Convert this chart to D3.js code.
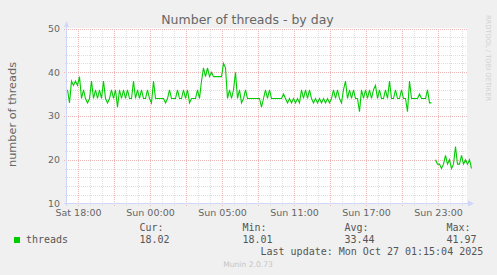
<!DOCTYPE html>
<html>
<head>
<meta charset="utf-8">
<script src="https://cdn.jsdelivr.net/npm/d3@7"></script>
<style>
  html, body { margin: 0; padding: 0; background: #f0f0f0; }
  svg { display: block; }
</style>
</head>
<body>
<svg id="chart" width="497" height="275"></svg>
<script>
// ---------- DATA ----------
const title = "Number of threads - by day";
const yLabel = "number of threads";
const tickLabels = ["Sat 18:00", "Sun 00:00", "Sun 05:00", "Sun 11:00", "Sun 17:00", "Sun 23:00"];
const tickHours = [0, 6, 12, 18, 24, 30];           // hours after Sat 18:00
const yTicks = [10, 20, 30, 40, 50];
const startHour = -11 / 12;                          // first sample, hours after Sat 18:00
const stepHours = 1 / 6;                             // 10-minute samples
const threads = [
  36,33,38,37,38,37,39,34,36,34,33,34,38,34,36,34,36,34,38,34,
  33,34,36,34,36,32,36,34,36,34,36,34,34,38,34,36,34,36,34,34,
  36,34,33,38,34,34,34,34,34,33,34,36,34,34,34,36,34,34,36,34,
  36,33,34,34,34,36,34,38,41,39,41,39,40,39,39,39,39,39,42,41,
  34,36,34,36,40,34,36,33,34,36,34,34,34,34,34,34,34,32,34,36,
  34,36,34,34,34,34,34,34,35,34,33,34,33,34,33,34,33,36,34,36,
  34,36,34,33,34,33,34,33,34,33,34,33,34,36,34,36,34,33,36,38,
  34,36,34,36,34,34,31,36,34,36,34,36,34,36,37,34,36,34,34,36,
  34,38,34,34,36,34,34,36,34,34,31,38,34,34,34,34,35,34,34,34,
  36,33,33,
  null,
  20,19,19,18,19,21,19,20,18,19,23,19,19,21,19,20,19,20,18
];
const seriesName = "threads";
const statLabels = ["Cur:", "Min:", "Avg:", "Max:"];
const statValues = ["18.02", "18.01", "33.44", "41.97"];
const lastUpdate = "Last update: Mon Oct 27 01:15:04 2025";
const footer = "Munin 2.0.73";
const sideText = "RRDTOOL / TOBI OETIKER";

// ---------- LAYOUT ----------
const plot = { left: 67, top: 28.5, width: 400, bottom: 203.5 };
const svg = d3.select("#chart");
const FONT = "'DejaVu Sans', sans-serif";
const MONO = "'DejaVu Sans Mono', monospace";
const textColor = "#666";
const axisColor = "#CFD6F8";
const majorColor = "#ebb6b6";
const minorColor = "#dedede";

const x = d3.scaleLinear()
  .domain([(plot.left + 0.5 - 78.5) / 12, (plot.left + plot.width + 0.5 - 78.5) / 12])
  .range([plot.left + 0.5, plot.left + plot.width + 0.5]);
const y = d3.scaleLinear().domain([10, 50]).range([plot.bottom, plot.top]);

// canvas
svg.append("rect")
  .attr("x", plot.left).attr("y", plot.top - 0.5)
  .attr("width", plot.width).attr("height", plot.bottom - plot.top + 0.5)
  .attr("fill", "#fff");

const grid = svg.append("g").attr("shape-rendering", "crispEdges");

// minor horizontal grid (every 2)
const yMinor = d3.range(12, 50, 2).filter(v => v % 10 !== 0);
grid.selectAll(".hmin").data(yMinor).join("line")
  .attr("x1", plot.left - 2).attr("x2", plot.left + plot.width)
  .attr("y1", d => Math.round(y(d)) + 0.5).attr("y2", d => Math.round(y(d)) + 0.5)
  .attr("stroke", minorColor).attr("stroke-dasharray", "1,1");

// minor vertical grid (every hour)
const xMinor = d3.range(Math.ceil(x.domain()[0]), x.domain()[1], 1).filter(h => ((h % 3) + 3) % 3 !== 0);
grid.selectAll(".vmin").data(xMinor).join("line")
  .attr("x1", d => Math.floor(x(d)) + 0.5).attr("x2", d => Math.floor(x(d)) + 0.5)
  .attr("y1", plot.top).attr("y2", plot.bottom + 2)
  .attr("stroke", minorColor).attr("stroke-dasharray", "1,1");

// major horizontal grid
grid.selectAll(".hmaj").data(yTicks.filter(v => v !== 10)).join("line")
  .attr("x1", plot.left - 3).attr("x2", plot.left + plot.width)
  .attr("y1", d => Math.round(y(d)) + 0.5).attr("y2", d => Math.round(y(d)) + 0.5)
  .attr("stroke", majorColor).attr("stroke-dasharray", "1,1");

// major vertical grid (every 3 hours)
const xMajor = d3.range(Math.ceil(x.domain()[0] / 3) * 3, x.domain()[1], 3);
grid.selectAll(".vmaj").data(xMajor).join("line")
  .attr("x1", d => Math.floor(x(d)) + 0.5).attr("x2", d => Math.floor(x(d)) + 0.5)
  .attr("y1", plot.top).attr("y2", plot.bottom + 3)
  .attr("stroke", majorColor).attr("stroke-dasharray", "1,1");

// axes with arrows
const axes = svg.append("g");
axes.append("line").attr("x1", plot.left - 0.5).attr("x2", plot.left - 0.5)
  .attr("y1", plot.bottom + 2).attr("y2", 22).attr("stroke", axisColor)
  .attr("shape-rendering", "crispEdges");
axes.append("line").attr("x1", plot.left - 3).attr("x2", 472)
  .attr("y1", plot.bottom).attr("y2", plot.bottom).attr("stroke", axisColor)
  .attr("shape-rendering", "crispEdges");
axes.append("path").attr("d", `M${plot.left - 3},27 L${plot.left - 0.5},21 L${plot.left + 2},27 Z`).attr("fill", axisColor);
axes.append("path").attr("d", `M468,${plot.bottom - 3} L474,${plot.bottom} L468,${plot.bottom + 3} Z`).attr("fill", axisColor);

// y tick labels
svg.append("g").selectAll("text").data(yTicks).join("text")
  .attr("x", 60).attr("y", d => y(d) + 3.4)
  .attr("text-anchor", "end")
  .attr("font-family", FONT).attr("font-size", "9.4px").attr("fill", textColor)
  .text(d => d);

// x tick labels
svg.append("g").selectAll("text").data(tickHours).join("text")
  .attr("x", d => x(d)).attr("y", 216)
  .attr("text-anchor", "middle")
  .attr("font-family", FONT).attr("font-size", "9.5px").attr("fill", textColor)
  .text((d, i) => tickLabels[i]);

// data line
const line = d3.line()
  .defined(d => d != null)
  .x((d, i) => x(startHour + i * stepHours))
  .y(d => y(d));
svg.append("path").datum(threads)
  .attr("d", line)
  .attr("fill", "none").attr("stroke", "#00cc00").attr("stroke-width", 1.1);

// title
svg.append("text").attr("x", 247.5).attr("y", 24)
  .attr("text-anchor", "middle")
  .attr("font-family", FONT).attr("font-size", "12.5px").attr("fill", textColor)
  .text(title);

// y label
svg.append("text")
  .attr("transform", "translate(15.5,114.5) rotate(-90)")
  .attr("text-anchor", "middle")
  .attr("font-family", FONT).attr("font-size", "11.3px").attr("fill", textColor)
  .text(yLabel);

// side text
svg.append("text")
  .attr("transform", "translate(485.5,58) rotate(90)")
  .attr("text-anchor", "middle")
  .attr("font-family", FONT).attr("font-size", "6.7px").attr("fill", "#d0d0d0")
  .text(sideText);

// legend
const legColor = "#555";
svg.append("rect").attr("x", 14).attr("y", 237).attr("width", 6).attr("height", 6).attr("fill", "#00cc00");
svg.append("text").attr("x", 26).attr("y", 243)
  .attr("font-family", MONO).attr("font-size", "10px").attr("fill", legColor)
  .text(seriesName);
const statX = [139.5, 242.5, 344.5, 446.5];
const lg = svg.append("g").attr("font-family", MONO).attr("font-size", "10px").attr("fill", legColor);
lg.selectAll(".sl").data(statLabels).join("text")
  .attr("x", (d, i) => statX[i]).attr("y", 231).text(d => d);
lg.selectAll(".sv").data(statValues).join("text")
  .attr("x", (d, i) => statX[i]).attr("y", 243).text(d => d);
lg.append("text").attr("x", 260.5).attr("y", 255).text(lastUpdate);

// footer
svg.append("text").attr("x", 248).attr("y", 266.5)
  .attr("text-anchor", "middle")
  .attr("font-family", FONT).attr("font-size", "7.6px").attr("fill", "#c4c4c4")
  .text(footer);
</script>
</body>
</html>
